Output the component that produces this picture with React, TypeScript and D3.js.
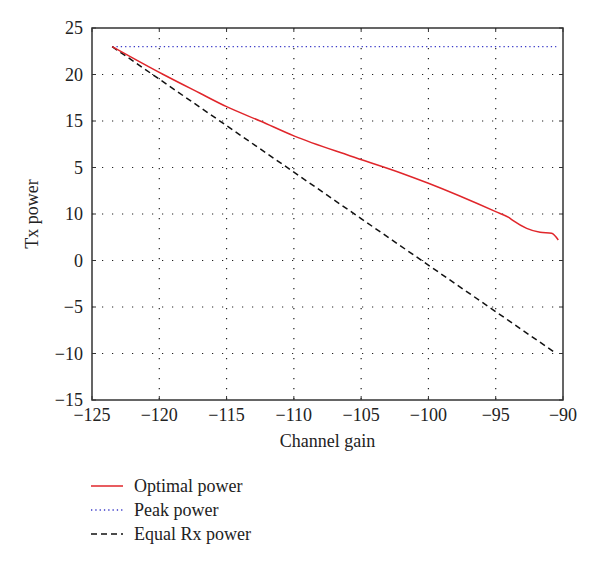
import React from "react";
import * as d3 from "d3";

const xTicks = [-125, -120, -115, -110, -105, -100, -95, -90];
const xTickLabels = ["−125", "−120", "−115", "−110", "−105", "−100", "−95", "−90"];
const yTicks = [25, 20, 15, 10, 5, 0, -5, -10, -15];
const yTickLabels = ["25", "20", "15", "5", "10", "0", "−5", "−10", "−15"];

const optimalX = [-123.5, -119.7, -116.97, -115, -112.5, -110, -105.8, -102.1, -100, -95, -94, -93.7, -92.7, -91.7, -90.85, -90.35];
const optimalY = [23, 20, 17.98, 16.54, 15, 13.4, 11.24, 9.44, 8.3, 5.25, 4.6, 4.28, 3.46, 3.03, 2.92, 2.2];
const peakX = [-123.5, -90.5];
const peakY = [23, 23];
const equalX = [-123.5, -90.5];
const equalY = [23, -10];

const legendLabels = ["Optimal power", "Peak power", "Equal Rx power"];

export default function App() {
  const W = 600, H = 567;
  const left = 92, right = 563, top = 28, bottom = 400;
  const x = d3.scaleLinear().domain([-125, -90]).range([left, right]);
  const y = d3.scaleLinear().domain([-15, 25]).range([bottom, top]);
  const line = d3.line<[number, number]>().x(d => x(d[0])).y(d => y(d[1]));
  const zip = (a: number[], b: number[]) => a.map((v, i) => [v, b[i]] as [number, number]);
  const font = "'Liberation Serif', 'DejaVu Serif', serif";
  const fs = 18;
  const tickLen = 4;
  const styles = [
    { stroke: "#e0262b", dash: undefined, width: 1.5 },
    { stroke: "#3a3ac8", dash: "1.3 3", width: 1.3 },
    { stroke: "#111", dash: "6 4", width: 1.5 },
  ];
  return (
    <svg width={W} height={H} style={{ position: "absolute", left: 0, top: 0, background: "#fff" }}>
      <rect x={0} y={0} width={W} height={H} fill="#fff" />
      {xTicks.slice(1, -1).map(t => (
        <line key={"gx" + t} x1={x(t)} x2={x(t)} y1={top} y2={bottom} stroke="#222" strokeWidth={1.2} strokeDasharray="1.2 8.8" />
      ))}
      {yTicks.slice(1, -1).map(t => (
        <line key={"gy" + t} x1={left} x2={right} y1={y(t)} y2={y(t)} stroke="#222" strokeWidth={1.2} strokeDasharray="1.2 8.8" />
      ))}
      {xTicks.map(t => (
        <g key={"tx" + t}>
          <line x1={x(t)} x2={x(t)} y1={bottom} y2={bottom - tickLen} stroke="#333" strokeWidth={1} />
          <line x1={x(t)} x2={x(t)} y1={top} y2={top + tickLen} stroke="#333" strokeWidth={1} />
        </g>
      ))}
      {yTicks.map(t => (
        <g key={"ty" + t}>
          <line x1={left} x2={left + tickLen} y1={y(t)} y2={y(t)} stroke="#333" strokeWidth={1} />
          <line x1={right} x2={right - tickLen} y1={y(t)} y2={y(t)} stroke="#333" strokeWidth={1} />
        </g>
      ))}
      <path d={line(zip(peakX, peakY)) || ""} fill="none" stroke={styles[1].stroke} strokeWidth={styles[1].width} strokeDasharray={styles[1].dash} />
      <path d={line(zip(equalX, equalY)) || ""} fill="none" stroke={styles[2].stroke} strokeWidth={styles[2].width} strokeDasharray={styles[2].dash} />
      <path d={line.curve(d3.curveMonotoneX)(zip(optimalX, optimalY)) || ""} fill="none" stroke={styles[0].stroke} strokeWidth={styles[0].width} />
      <rect x={left} y={top} width={right - left} height={bottom - top} fill="none" stroke="#333" strokeWidth={1.5} />
      {xTicks.map((t, i) => (
        <text key={"lx" + t} x={x(t)} y={bottom + 21} textAnchor="middle" fontFamily={font} fontSize={fs} fill="#222">{xTickLabels[i]}</text>
      ))}
      {yTicks.map((t, i) => (
        <text key={"ly" + t} x={left - 9} y={y(t) + 6} textAnchor="end" fontFamily={font} fontSize={fs} fill="#222">{yTickLabels[i]}</text>
      ))}
      <text x={(left + right) / 2} y={447} textAnchor="middle" fontFamily={font} fontSize={fs} fill="#222">Channel gain</text>
      <text transform={`translate(38, ${(top + bottom) / 2}) rotate(-90)`} textAnchor="middle" fontFamily={font} fontSize={fs} fill="#222">Tx power</text>
      {legendLabels.map((lab, i) => {
        const ly = 486 + i * 24;
        const s = styles[i];
        return (
          <g key={lab}>
            <line x1={91} x2={123} y1={ly} y2={ly} stroke={s.stroke} strokeWidth={s.width} strokeDasharray={s.dash} />
            <text x={134} y={ly + 6} fontFamily={font} fontSize={fs} fill="#222">{lab}</text>
          </g>
        );
      })}
    </svg>
  );
}
